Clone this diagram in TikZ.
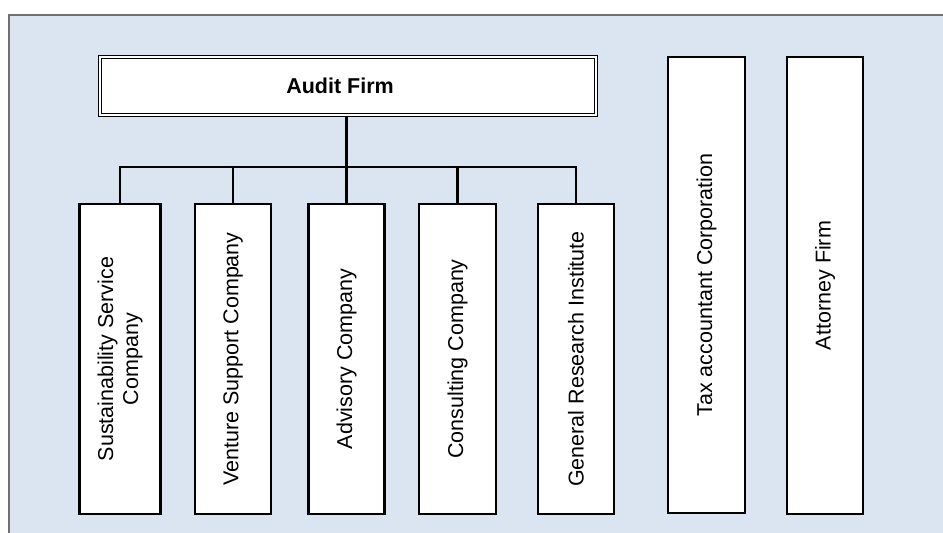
\documentclass[tikz,border=0pt]{standalone}
\usepackage{fontspec}
\setmainfont{Liberation Sans}
\definecolor{panel}{HTML}{DBE5F1}
\definecolor{edge}{HTML}{6F6F6F}
\begin{document}
\begin{tikzpicture}[x=1pt,y=-1pt,
  cbox/.style={draw=black, line width=2.3pt, fill=white, inner sep=0pt},
  lbl/.style={rotate=90, font=\fontsize{21.5}{25}\selectfont, align=center, inner sep=0pt},
  conn/.style={draw=black, line width=2.2pt}]
\useasboundingbox (0,0) rectangle (943,533);
\fill[panel] (8,14) rectangle (943,533);
\draw[edge, line width=1.8pt] (8.9,533) -- (8.9,14.9) -- (943,14.9);
% Audit firm
\node[draw=black, line width=1.4pt, double=white, double distance=2pt, fill=white,
      minimum width=496pt, minimum height=58pt, inner sep=0pt,
      label={[font=\bfseries\fontsize{21.5}{25}\selectfont, xshift=-8pt, inner sep=0pt]center:Audit Firm}] (af) at (348,86) {};
% children
\node[cbox, minimum width=81pt, minimum height=310pt,
      label={[lbl]center:{Sustainability Service\\Company}}] (b1) at (120,359) {};
\node[cbox, minimum width=76pt, minimum height=310pt,
      label={[lbl]center:{Venture Support Company}}] (b2) at (233,359) {};
\node[cbox, minimum width=76pt, minimum height=310pt,
      label={[lbl]center:{Advisory Company}}] (b3) at (346.5,359) {};
\node[cbox, minimum width=77pt, minimum height=310pt,
      label={[lbl]center:{Consulting Company}}] (b4) at (457.5,359) {};
\node[cbox, minimum width=76pt, minimum height=310pt,
      label={[lbl]center:{General Research Institute}}] (b5) at (576,359) {};
% independent
\node[cbox, minimum width=77pt, minimum height=456pt,
      label={[lbl]center:{Tax accountant Corporation}}] (tax) at (706.5,285) {};
\node[cbox, minimum width=76pt, minimum height=457pt,
      label={[lbl]center:{Attorney Firm}}] (att) at (825,285.5) {};
% connectors
\coordinate (bar) at (346.5,167);
\draw[conn] (bar |- af.south) -- (bar);
\draw[conn] (b1.north) |- (bar) -| (b5.north);
\draw[conn] (b2.north) -- (b2.north |- bar);
\draw[conn] (b3.north) -- (b3.north |- bar);
\draw[conn] (b4.north) -- (b4.north |- bar);
\end{tikzpicture}
\end{document}
